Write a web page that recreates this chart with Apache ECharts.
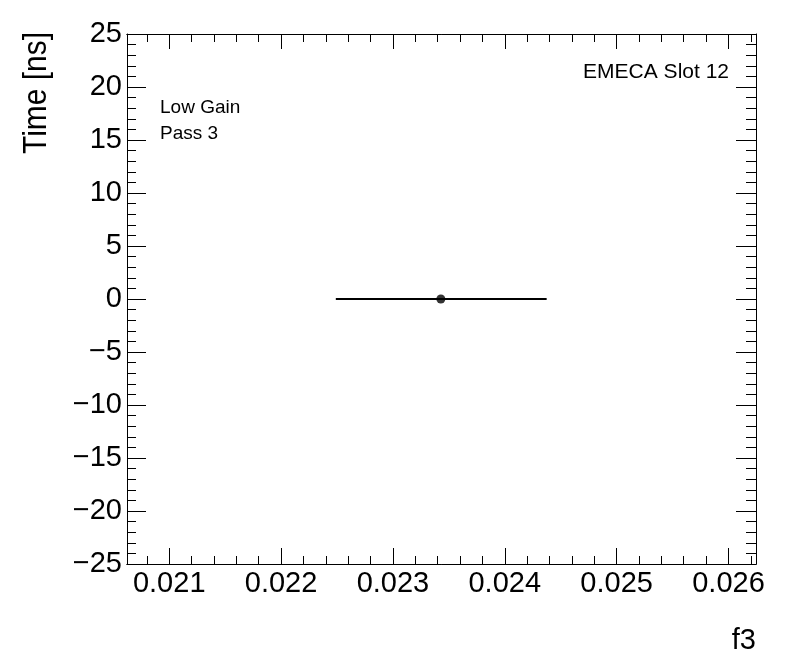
<!DOCTYPE html>
<html><head><meta charset="utf-8">
<script src="https://cdn.jsdelivr.net/npm/echarts@6/dist/echarts.min.js"></script>
<style>html,body{margin:0;padding:0;background:#fff}#c{width:796px;height:672px}</style>
</head><body><div id="c"></div>
<script>
const xMajorTicks = [0.021, 0.022, 0.023, 0.024, 0.025, 0.026];
const xMinorTicks = [0.0208, 0.0212, 0.0214, 0.0216, 0.0218, 0.0222, 0.0224, 0.0226, 0.0228,
  0.0232, 0.0234, 0.0236, 0.0238, 0.0242, 0.0244, 0.0246, 0.0248, 0.0252, 0.0254, 0.0256, 0.0258, 0.0262];
const xRange = [0.0206225, 0.026246];
const yRange = [-25, 25];
const yStep = 5;
const pointX = [0.0234284];
const pointY = [0];
const xErrLow = [0.000939];
const xErrHigh = [0.000946];
const xTitle = 'f3';
const yTitle = 'Time [ns]';
const notes = ['Low Gain', 'Pass 3'];
const slotLabel = 'EMECA Slot 12';

const FONT = 'Liberation Sans, Arial, Helvetica, sans-serif';
const black = '#000';

function xAxisDef(pos, ticks, len, showLabel) {
  return {
    type: 'value', position: pos, min: xRange[0], max: xRange[1],
    axisLine: { show: true, onZero: false, lineStyle: { color: black, width: 1 } },
    axisTick: { show: true, inside: true, length: len, customValues: ticks, lineStyle: { color: black, width: 1 } },
    axisLabel: showLabel ? {
      show: true, customValues: ticks, fontSize: 29, color: black, fontFamily: FONT, margin: 5,
      formatter: v => Number(v).toFixed(3)
    } : { show: false },
    splitLine: { show: false }
  };
}
function yAxisDef(pos, len, minorLen, showLabel) {
  return {
    type: 'value', position: pos, min: yRange[0], max: yRange[1], interval: yStep,
    axisLine: { show: true, onZero: false, lineStyle: { color: black, width: 1 } },
    axisTick: { show: true, inside: true, length: len, lineStyle: { color: black, width: 1 } },
    minorTick: { show: true, splitNumber: 5, length: minorLen, lineStyle: { color: black, width: 1 } },
    axisLabel: showLabel ? {
      show: true, fontSize: 29, color: black, fontFamily: FONT, margin: 5,
      formatter: v => String(v).replace('-', '\u2212')
    } : { show: false },
    splitLine: { show: false }, minorSplitLine: { show: false }
  };
}

const chart = echarts.init(document.getElementById('c'), null, { renderer: 'canvas' });
const pts = pointX.map((x, i) => [x, pointY[i], xErrLow[i], xErrHigh[i]]);

chart.setOption({
  animation: false,
  backgroundColor: '#fff',
  grid: { left: 127, right: 40, top: 34, bottom: 108, containLabel: false },
  xAxis: [
    xAxisDef('bottom', xMajorTicks, 16, true),
    xAxisDef('bottom', xMinorTicks, 8, false),
    xAxisDef('top', xMajorTicks, 15, false),
    xAxisDef('top', xMinorTicks, 8, false)
  ],
  yAxis: [
    yAxisDef('left', 19, 9, true),
    yAxisDef('right', 20, 10, false)
  ],
  series: [
    {
      type: 'custom', xAxisIndex: 0, yAxisIndex: 0, data: pts, z: 2,
      renderItem: function (params, api) {
        const x = api.value(0), y = api.value(1);
        const p1 = api.coord([x - api.value(2), y]);
        const p2 = api.coord([x + api.value(3), y]);
        return { type: 'line', shape: { x1: p1[0], y1: p1[1], x2: p2[0], y2: p2[1] },
          style: { stroke: black, lineWidth: 2 } };
      }
    },
    {
      type: 'scatter', xAxisIndex: 0, yAxisIndex: 0, z: 3,
      data: pts.map(p => [p[0], p[1]]), symbol: 'circle', symbolSize: 9,
      itemStyle: { color: black }
    }
  ],
  graphic: [
    { type: 'text', x: 37, y: 93, rotation: Math.PI / 2, scaleX: 0.88,
      style: { text: yTitle, fontSize: 34, fontFamily: FONT, fill: black, align: 'center', verticalAlign: 'middle' } },
    { type: 'text', x: 756, y: 641,
      style: { text: xTitle, fontSize: 29, fontFamily: FONT, fill: black, align: 'right', verticalAlign: 'middle' } },
    { type: 'text', x: 160, y: 108,
      style: { text: notes[0], fontSize: 19, fontFamily: FONT, fill: black, align: 'left', verticalAlign: 'middle' } },
    { type: 'text', x: 160, y: 134,
      style: { text: notes[1], fontSize: 19, fontFamily: FONT, fill: black, align: 'left', verticalAlign: 'middle' } },
    { type: 'text', x: 729, y: 72,
      style: { text: slotLabel, fontSize: 21, fontFamily: FONT, fill: black, align: 'right', verticalAlign: 'middle' } }
  ]
});
</script></body></html>
